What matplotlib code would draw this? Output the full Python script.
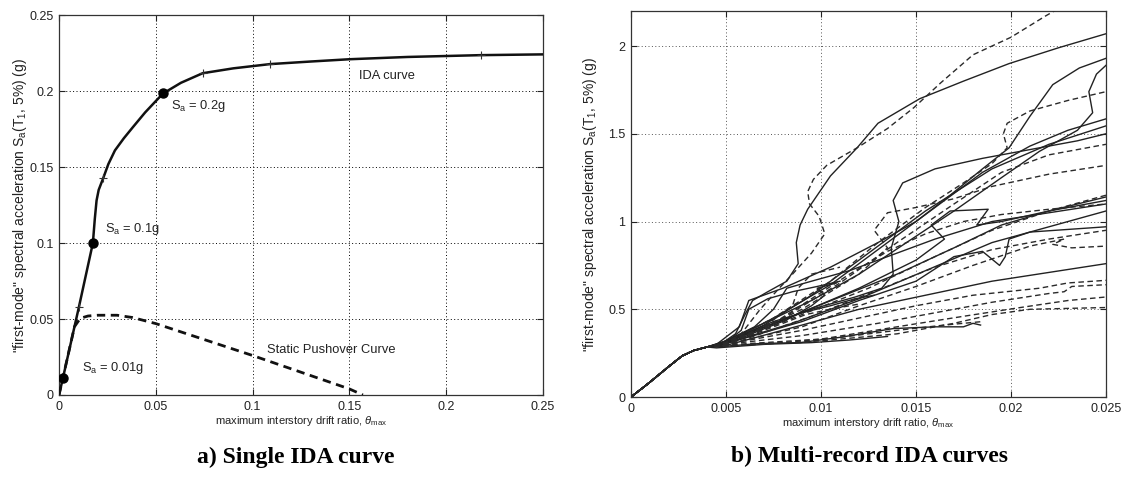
import matplotlib.pyplot as plt
from matplotlib.ticker import FixedLocator, FixedFormatter

plt.rcParams['font.family'] = ['Liberation Sans', 'DejaVu Sans']
plt.rcParams['mathtext.fontset'] = 'custom'
plt.rcParams['mathtext.rm'] = 'Liberation Sans'
plt.rcParams['mathtext.it'] = 'Liberation Sans:italic'

# ---- a) single IDA curve ----
ida_drift = [0, 0.002, 0.0103, 0.0175, 0.0185, 0.0194, 0.0205, 0.0228, 0.0255, 0.0289, 0.0335,
             0.0383, 0.0445, 0.0504, 0.0538, 0.063, 0.0742, 0.09, 0.109, 0.13, 0.15, 0.18, 0.218, 0.25]
ida_sa = [0, 0.011, 0.058, 0.1, 0.116, 0.128, 0.135, 0.1426, 0.152, 0.161, 0.169,
          0.1765, 0.186, 0.194, 0.1985, 0.2055, 0.2118, 0.215, 0.2178, 0.2195, 0.221, 0.2225, 0.2237, 0.2242]
tick_drift = [0.0103, 0.0228, 0.0742, 0.109, 0.218]
tick_sa = [0.058, 0.1426, 0.2118, 0.2178, 0.2237]
pushover_drift = [0, 0.008, 0.011, 0.015, 0.02, 0.03, 0.038, 0.05, 0.075, 0.1, 0.125, 0.15, 0.157]
pushover_sa = [0, 0.045, 0.0505, 0.052, 0.0525, 0.0525, 0.051, 0.047, 0.0365, 0.026, 0.015, 0.004, 0.0]
marked_drift = [0.002, 0.0175, 0.0535]
marked_sa = [0.011, 0.1, 0.199]
marked_text = ['S$_{\\rm a}$ = 0.01g', 'S$_{\\rm a}$ = 0.1g', 'S$_{\\rm a}$ = 0.2g']
marked_text_pos = [(0.012, 0.018), (0.024, 0.109), (0.058, 0.19)]

a_xticks = [0, 0.05, 0.1, 0.15, 0.2, 0.25]
a_xlabels = ['0', '0.05', '0.1', '0.15', '0.2', '0.25']
a_yticks = [0, 0.05, 0.1, 0.15, 0.2, 0.25]
a_ylabels = ['0', '0.05', '0.1', '0.15', '0.2', '0.25']

# ---- b) multi-record IDA curves ----
elastic_drift = [0, 0.001, 0.002, 0.0027, 0.0033, 0.004]
elastic_sa = [0, 0.085, 0.175, 0.235, 0.265, 0.285]

solid_drift = [
    [0.0047, 0.0055, 0.006, 0.0064, 0.0072, 0.0082, 0.0088, 0.0087, 0.0089, 0.0093, 0.0105, 0.0119, 0.013, 0.0152, 0.0175, 0.0199, 0.0225, 0.025],
    [0.0045, 0.0057, 0.0062, 0.008, 0.0105, 0.013, 0.015, 0.0168, 0.0185, 0.0199, 0.021, 0.0222, 0.0236, 0.025],
    [0.005, 0.007, 0.0095, 0.012, 0.0145, 0.017, 0.0195, 0.0215, 0.0235, 0.0243, 0.0241, 0.0245, 0.025],
    [0.005, 0.0075, 0.0105, 0.0135, 0.016, 0.0185, 0.021, 0.023, 0.025],
    [0.0048, 0.007, 0.0095, 0.0125, 0.0155, 0.019, 0.022, 0.025],
    [0.005, 0.007, 0.0095, 0.0118, 0.0132, 0.0138, 0.0137, 0.0141, 0.0138, 0.0143, 0.016, 0.0185, 0.021, 0.0235, 0.025],
    [0.005, 0.008, 0.011, 0.014, 0.017, 0.0195, 0.022, 0.025],
    [0.0052, 0.0085, 0.012, 0.015, 0.0165, 0.0158, 0.0168, 0.0188, 0.0182, 0.0195, 0.022, 0.025],
    [0.0048, 0.0085, 0.012, 0.0155, 0.019, 0.022, 0.025],
    [0.0055, 0.009, 0.012, 0.015, 0.017, 0.0185, 0.0194, 0.0197, 0.0199, 0.021, 0.025],
    [0.0052, 0.009, 0.012, 0.0155, 0.019, 0.022, 0.025],
    [0.005, 0.0068, 0.0089, 0.011, 0.0138, 0.016, 0.0175, 0.018, 0.0184],
    [0.0045, 0.007, 0.0095, 0.0115, 0.0135],
    [0.005, 0.0065, 0.0075, 0.0082, 0.0095, 0.0115, 0.0135, 0.016, 0.019, 0.022, 0.025],
    [0.0048, 0.0062, 0.0075, 0.009, 0.0105, 0.0118, 0.0128],
    [0.005, 0.0058, 0.0062, 0.0072, 0.0085, 0.0098, 0.011],
    [0.0052, 0.0068, 0.0082, 0.0095, 0.0102, 0.0098, 0.0108],
]
solid_sa = [
    [0.30, 0.36, 0.47, 0.55, 0.60, 0.66, 0.76, 0.88, 0.98, 1.07, 1.26, 1.42, 1.56, 1.70, 1.80, 1.90, 1.99, 2.07],
    [0.30, 0.40, 0.55, 0.62, 0.74, 0.88, 1.00, 1.15, 1.30, 1.42, 1.60, 1.78, 1.875, 1.93],
    [0.32, 0.42, 0.55, 0.70, 0.88, 1.06, 1.25, 1.40, 1.52, 1.62, 1.74, 1.84, 1.89],
    [0.31, 0.45, 0.64, 0.88, 1.08, 1.28, 1.43, 1.52, 1.585],
    [0.30, 0.41, 0.58, 0.82, 1.06, 1.30, 1.44, 1.545],
    [0.31, 0.40, 0.50, 0.57, 0.62, 0.70, 0.85, 1.00, 1.12, 1.22, 1.30, 1.36, 1.41, 1.46, 1.50],
    [0.31, 0.44, 0.57, 0.70, 0.85, 0.98, 1.06, 1.14],
    [0.32, 0.46, 0.62, 0.78, 0.90, 0.98, 1.06, 1.07, 0.98, 1.00, 1.06, 1.12],
    [0.30, 0.42, 0.56, 0.72, 0.88, 0.97, 1.06],
    [0.32, 0.43, 0.55, 0.66, 0.80, 0.83, 0.75, 0.80, 0.90, 0.94, 0.97],
    [0.30, 0.41, 0.50, 0.58, 0.66, 0.71, 0.76],
    [0.29, 0.305, 0.31, 0.34, 0.39, 0.40, 0.40, 0.42, 0.41],
    [0.28, 0.30, 0.31, 0.325, 0.345],
    [0.32, 0.40, 0.50, 0.62, 0.66, 0.72, 0.80, 0.90, 1.00, 1.05, 1.10],
    [0.30, 0.37, 0.43, 0.48, 0.52, 0.56, 0.58],
    [0.31, 0.38, 0.50, 0.56, 0.60, 0.63, 0.66],
    [0.31, 0.38, 0.44, 0.52, 0.58, 0.62, 0.65],
]

dashed_drift = [
    [0.005, 0.0058, 0.0068, 0.0078, 0.0085, 0.0095, 0.0102, 0.0099, 0.0094, 0.0093, 0.0096, 0.0103, 0.0119, 0.0135, 0.0149, 0.0163, 0.018, 0.02, 0.0218, 0.0226],
    [0.005, 0.0075, 0.0105, 0.013, 0.0155, 0.0175, 0.019, 0.0198, 0.0196, 0.0198, 0.021, 0.023, 0.025],
    [0.005, 0.008, 0.011, 0.014, 0.017, 0.0195, 0.022, 0.025],
    [0.0055, 0.009, 0.012, 0.0135, 0.0128, 0.0135, 0.015, 0.017, 0.019, 0.022, 0.025],
    [0.005, 0.009, 0.0125, 0.016, 0.019, 0.022, 0.025],
    [0.0055, 0.0095, 0.013, 0.016, 0.019, 0.022, 0.025],
    [0.005, 0.009, 0.012, 0.015, 0.018, 0.021, 0.0228, 0.0222, 0.0232, 0.025],
    [0.0055, 0.009, 0.012, 0.015, 0.018, 0.0215, 0.023, 0.025],
    [0.005, 0.009, 0.013, 0.0165, 0.019, 0.022, 0.0228, 0.0232, 0.025],
    [0.0055, 0.01, 0.014, 0.0175, 0.0205, 0.023, 0.025],
    [0.005, 0.01, 0.014, 0.017, 0.019, 0.021, 0.025],
    [0.0052, 0.0075, 0.0095, 0.0115, 0.0135, 0.0155, 0.0175, 0.0195, 0.022, 0.025],
    [0.005, 0.008, 0.011, 0.014, 0.0165, 0.0185],
    [0.0048, 0.0065, 0.008, 0.0092, 0.0105, 0.012],
    [0.005, 0.007, 0.0085, 0.0088, 0.0095, 0.011],
]
dashed_sa = [
    [0.31, 0.36, 0.50, 0.62, 0.70, 0.82, 0.93, 1.03, 1.10, 1.17, 1.24, 1.32, 1.42, 1.53, 1.65, 1.79, 1.95, 2.05, 2.17, 2.22],
    [0.31, 0.45, 0.66, 0.88, 1.08, 1.22, 1.33, 1.42, 1.50, 1.56, 1.63, 1.69, 1.74],
    [0.30, 0.45, 0.65, 0.88, 1.10, 1.28, 1.38, 1.44],
    [0.32, 0.50, 0.70, 0.85, 0.95, 1.05, 1.08, 1.13, 1.20, 1.27, 1.32],
    [0.30, 0.47, 0.62, 0.80, 0.95, 1.06, 1.15],
    [0.31, 0.46, 0.61, 0.74, 0.84, 0.90, 0.95],
    [0.30, 0.40, 0.52, 0.63, 0.75, 0.86, 0.90, 0.87, 0.85, 0.86],
    [0.31, 0.38, 0.45, 0.52, 0.58, 0.62, 0.65, 0.665],
    [0.30, 0.35, 0.42, 0.49, 0.54, 0.59, 0.60, 0.63, 0.64],
    [0.30, 0.33, 0.40, 0.46, 0.51, 0.55, 0.57],
    [0.29, 0.32, 0.36, 0.42, 0.47, 0.50, 0.51],
    [0.31, 0.42, 0.56, 0.70, 0.83, 0.93, 1.00, 1.04, 1.07, 1.10],
    [0.29, 0.31, 0.34, 0.38, 0.41, 0.43],
    [0.30, 0.36, 0.42, 0.47, 0.50, 0.53],
    [0.31, 0.40, 0.52, 0.62, 0.70, 0.74],
]

b_xticks = [0, 0.005, 0.01, 0.015, 0.02, 0.025]
b_xlabels = ['0', '0.005', '0.01', '0.015', '0.02', '0.025']
b_yticks = [0, 0.5, 1, 1.5, 2]
b_ylabels = ['0', '0.5', '1', '1.5', '2']

xlabel_text = 'maximum interstory drift ratio, $\\theta_{\\rm max}$'
ylabel_text = '"first-mode" spectral acceleration S$_{\\rm a}$(T$_{\\rm 1}$, 5%) (g)'


def style_axes(ax, xt, xl, yt, yl, grid_color, ylab_x, xlab_y):
    ax.xaxis.set_major_locator(FixedLocator(xt))
    ax.xaxis.set_major_formatter(FixedFormatter(xl))
    ax.yaxis.set_major_locator(FixedLocator(yt))
    ax.yaxis.set_major_formatter(FixedFormatter(yl))
    ax.tick_params(direction='in', top=True, right=True, length=4, width=0.8,
                   labelsize=9, colors='#222222', pad=4)
    ax.grid(True, linestyle=(0, (1, 2.5)), color=grid_color, lw=0.7)
    for s in ax.spines.values():
        s.set_color('#333333')
        s.set_linewidth(0.9)
    ax.set_xlabel(xlabel_text, fontsize=8, color='#222222')
    ax.set_ylabel(ylabel_text, fontsize=10, color='#222222')
    ax.yaxis.set_label_coords(ylab_x, 0.5)
    ax.xaxis.set_label_coords(0.5, xlab_y)


fig = plt.figure(figsize=(11.26, 4.82), dpi=100)
ax1 = fig.add_axes([0.0524, 0.1805, 0.4298, 0.788])
ax2 = fig.add_axes([0.5604, 0.1763, 0.4218, 0.801])

# panel a
ax1.plot(ida_drift, ida_sa, color='#111111', lw=1.8, zorder=3)
ax1.plot(pushover_drift, pushover_sa, color='#111111', lw=2.0, dashes=(3, 2), zorder=3)
ax1.plot(tick_drift, tick_sa, ls='none', marker='+', ms=6, mew=0.8, color='#333333', zorder=4)
ax1.plot(marked_drift, marked_sa, ls='none', marker='o', ms=6.5, color='black', zorder=5)
for (tx, ty), t in zip(marked_text_pos, marked_text):
    ax1.text(tx, ty, t, fontsize=9.3, color='#222222', va='center')
ax1.text(0.155, 0.21, 'IDA curve', fontsize=9.3, color='#222222', va='center')
ax1.text(0.1077, 0.0296, 'Static Pushover Curve', fontsize=9.3, color='#222222', va='center')
ax1.set_xlim(0, 0.25)
ax1.set_ylim(0, 0.25)
style_axes(ax1, a_xticks, a_xlabels, a_yticks, a_ylabels, 'black', -0.062, -0.05)

# panel b
for dx, sy in zip(solid_drift, solid_sa):
    ax2.plot(elastic_drift + dx, elastic_sa + sy, color='#222222', lw=1.0, zorder=3)
for dx, sy in zip(dashed_drift, dashed_sa):
    ax2.plot(elastic_drift + dx, elastic_sa + sy, color='#2a2a2a', lw=1.0, dashes=(4, 2.5), zorder=3)
ax2.set_xlim(0, 0.025)
ax2.set_ylim(0, 2.2)
style_axes(ax2, b_xticks, b_xlabels, b_yticks, b_ylabels, '#555555', -0.068, -0.05)

fig.text(0.263, 0.052, 'a) Single IDA curve', fontfamily='Liberation Serif',
         fontweight='bold', fontsize=17, ha='center', va='center')
fig.text(0.7726, 0.052, 'b) Multi-record IDA curves', fontfamily='Liberation Serif',
         fontweight='bold', fontsize=17, ha='center', va='center')

fig.savefig('out.png', dpi=100)
